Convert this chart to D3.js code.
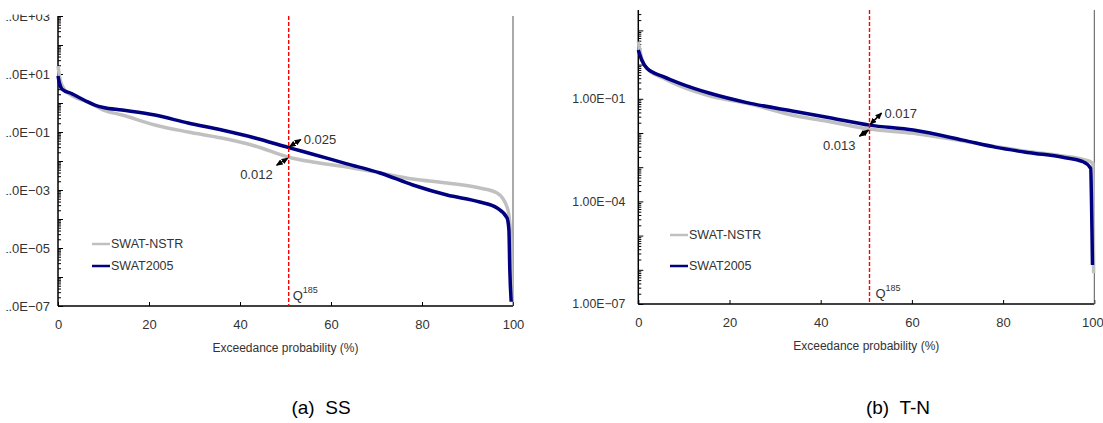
<!DOCTYPE html>
<html>
<head>
<meta charset="utf-8">
<script src="https://cdn.jsdelivr.net/npm/d3@7"></script>
<style>
  body { margin: 0; background: #fff; }
  svg { display: block; }
</style>
</head>
<body>
<div id="chart"></div>
<script>
// flow duration curves
var xTicks = [0, 20, 40, 60, 80, 100];
var seriesNames = ['SWAT-NSTR', 'SWAT2005'];
var q185 = 50.7;

// (a) SS
var ssProbNstr = [0, 0.5, 1.5, 3.5, 6.6, 10, 14.1, 21.3, 28.6, 36.0, 43.3, 50.7, 56.0, 63.5, 70.8, 78.0, 85.5, 92.7, 96.5, 98.7, 99.3, 99.6, 99.8];
var ssNstr = [18.9, 6, 2.8, 1.65, 1.08, 0.57, 0.385, 0.174, 0.1, 0.062, 0.033, 0.0135, 0.0092, 0.0062, 0.00385, 0.00239, 0.00174, 0.00117, 0.00079, 0.00026, 7.3e-5, 3.9e-6, 1.6e-7];
var ssProb2005 = [0, 0.3, 0.9, 3.0, 6.0, 8.1, 10, 14.1, 21.3, 28.6, 36.0, 43.3, 50.7, 56.0, 63.5, 70.8, 78.0, 85.5, 92.7, 96.5, 98.7, 99.1, 99.3, 99.6];
var ss2005 = [8.5, 5, 3.0, 2.1, 1.2, 0.85, 0.7, 0.57, 0.385, 0.204, 0.117, 0.062, 0.029, 0.0171, 0.0080, 0.00385, 0.00149, 0.00067, 0.000385, 0.000239, 0.000108, 4.2e-5, 1.7e-6, 1.4e-7];
var ssMarks = ['0.025', '0.012'];

// (b) T-N
var tnProbNstr = [0, 0.75, 1.9, 5.5, 9.1, 15.7, 23.8, 34.7, 42.0, 50.7, 60.3, 71.2, 78.5, 85.8, 93.1, 97.5, 99.7, 99.85];
var tnNstr = [4.7, 1.5, 0.78, 0.40, 0.237, 0.121, 0.0738, 0.0314, 0.0214, 0.013, 0.0098, 0.0058, 0.0040, 0.00284, 0.00214, 0.0017, 0.0013, 7.9e-7];
var tnProb2005 = [0, 0.75, 1.9, 5.5, 9.1, 15.7, 23.8, 34.7, 42.0, 50.7, 60.3, 71.2, 78.5, 85.8, 93.1, 97.5, 99.2, 99.37, 99.5, 99.6];
var tn2005 = [2.67, 1.36, 0.78, 0.445, 0.284, 0.145, 0.0775, 0.042, 0.028, 0.017, 0.0122, 0.0062, 0.0038, 0.00266, 0.00195, 0.00145, 0.00093, 1.38e-4, 1.17e-5, 1.38e-6];
var tnMarks = ['0.017', '0.013'];

var width = 1103, height = 423;
var font = '"Liberation Sans", Arial, sans-serif';
var textColor = '#333';
var colors = { nstr: '#c0c0c0', swat: '#000080' };

var svg = d3.select('#chart').append('svg')
  .attr('width', width)
  .attr('height', height)
  .attr('viewBox', [0, 0, width, height].join(' '));

svg.append('rect').attr('width', width).attr('height', height).attr('fill', '#fff');

var defs = svg.append('defs');
defs.append('marker')
  .attr('id', 'head')
  .attr('markerUnits', 'userSpaceOnUse')
  .attr('markerWidth', 7).attr('markerHeight', 6)
  .attr('refX', 6).attr('refY', 3)
  .attr('orient', 'auto-start-reverse')
  .append('path').attr('d', 'M0,0L7,3L0,6Z').attr('fill', '#000');

// 1.0E+01 style labels
function sci(v, digits) {
  var e = Math.round(Math.log10(v));
  var m = (v / Math.pow(10, e)).toFixed(digits);
  return m + 'E' + (e < 0 ? '\u2212' : '+') + String(Math.abs(e)).padStart(2, '0');
}

function drawPanel(p) {
  var x = d3.scaleLinear().domain([0, 100]).range([p.left, p.right]);
  var y = d3.scaleLog().domain(p.yDomain).range([p.bottom, p.top]);

  var lo = Math.round(Math.log10(p.yDomain[0]));
  var hi = Math.floor(Math.log10(p.yDomain[1]) + 1e-9);
  var decades = d3.range(lo, hi + 1).map(function(e) { return Math.pow(10, e); });
  var minors = [];
  decades.forEach(function(d) {
    for (var k = 2; k <= 9; k++) {
      if (k * d <= p.yDomain[1]) minors.push(k * d);
    }
  });

  // clip for the y labels (the original is cut at the edge)
  var clipId = 'clip' + p.id;
  defs.append('clipPath').attr('id', clipId)
    .append('rect').attr('x', p.clip[0]).attr('y', p.clip[1])
    .attr('width', width).attr('height', height);

  var yWrap = svg.append('g').attr('clip-path', 'url(#' + clipId + ')');

  var yMinor = yWrap.append('g')
    .attr('transform', 'translate(' + p.left + ',0)')
    .call(d3.axisLeft(y).tickValues(minors).tickSize(-3).tickFormat(''));
  yMinor.select('.domain').remove();

  var yAxis = yWrap.append('g')
    .attr('transform', 'translate(' + p.left + ',0)')
    .call(d3.axisLeft(y).tickValues(decades).tickSize(-5).tickPadding(p.labelGap)
      .tickFormat(function(d) {
        var e = Math.round(Math.log10(d));
        return ((e - lo) % p.labelEvery === 0) ? sci(d, p.digits) : '';
      }));
  yAxis.select('.domain').remove();
  yAxis.attr('font-size', p.labelSize).attr('font-family', font);
  yAxis.selectAll('text').attr('fill', textColor);
  yWrap.selectAll('.tick line').attr('stroke', '#000');

  var xAxis = svg.append('g')
    .attr('transform', 'translate(0,' + p.bottom + ')')
    .call(d3.axisBottom(x).tickValues(xTicks).tickSize(-4).tickPadding(14));
  xAxis.select('.domain').remove();
  xAxis.attr('font-size', 13).attr('font-family', font);
  xAxis.selectAll('text').attr('fill', textColor)
    .attr('dx', function(d) { return d === 100 ? p.lastNudge : 0; });

  // frame: left + bottom axis, thin right border
  svg.append('line')
    .attr('x1', p.left).attr('x2', p.left).attr('y1', p.top).attr('y2', p.bottom)
    .attr('stroke', '#000').attr('stroke-width', 1.5);
  svg.append('line')
    .attr('x1', p.left).attr('x2', p.right).attr('y1', p.bottom).attr('y2', p.bottom)
    .attr('stroke', '#000').attr('stroke-width', 1.5);
  svg.append('line')
    .attr('x1', p.right).attr('x2', p.right).attr('y1', p.top).attr('y2', p.bottom)
    .attr('stroke', '#555').attr('stroke-width', 1);

  var line = d3.line()
    .x(function(d) { return x(d[0]); })
    .y(function(d) { return y(d[1]); })
    .curve(d3.curveMonotoneX);

  svg.append('path')
    .datum(d3.zip(p.probNstr, p.nstr))
    .attr('d', line)
    .attr('fill', 'none').attr('stroke', colors.nstr).attr('stroke-width', 3.5)
    .attr('stroke-linejoin', 'round');
  svg.append('path')
    .datum(d3.zip(p.prob2005, p.swat))
    .attr('d', line)
    .attr('fill', 'none').attr('stroke', colors.swat).attr('stroke-width', 3.5)
    .attr('stroke-linejoin', 'round');

  // Q185 line
  svg.append('line')
    .attr('x1', x(q185)).attr('x2', x(q185)).attr('y1', p.top).attr('y2', p.bottom)
    .attr('stroke', '#ff0000').attr('stroke-width', 1.4).attr('stroke-dasharray', '4,2');
  var q = svg.append('text')
    .attr('x', x(q185) + p.qGap).attr('y', p.bottom - 6)
    .attr('font-family', font).attr('font-size', 13).attr('fill', textColor)
    .text('Q');
  q.append('tspan').attr('dy', -7).attr('font-size', 9).text('185');

  // value arrows at Q185
  var iSwat = p.prob2005.indexOf(q185), iNstr = p.probNstr.indexOf(q185);
  var topPt = [x(q185), y(p.swat[iSwat])];
  var botPt = [x(q185), y(p.nstr[iNstr])];
  svg.append('line')
    .attr('x1', topPt[0] + 1).attr('y1', topPt[1] - 1)
    .attr('x2', topPt[0] + p.upArrow[0]).attr('y2', topPt[1] + p.upArrow[1])
    .attr('stroke', '#000').attr('stroke-width', 1.5)
    .attr('marker-start', 'url(#head)').attr('marker-end', 'url(#head)');
  svg.append('line')
    .attr('x1', botPt[0] - 1).attr('y1', botPt[1] + 1)
    .attr('x2', botPt[0] + p.downArrow[0]).attr('y2', botPt[1] + p.downArrow[1])
    .attr('stroke', '#000').attr('stroke-width', 1.5)
    .attr('marker-start', 'url(#head)').attr('marker-end', 'url(#head)');
  svg.append('text')
    .attr('x', topPt[0] + p.upArrow[0] + 3).attr('y', topPt[1] + p.upArrow[1])
    .attr('dy', '0.35em')
    .attr('font-family', font).attr('font-size', 13).attr('fill', textColor)
    .text(p.marks[0]);
  svg.append('text')
    .attr('x', botPt[0] + p.downArrow[0] - 4).attr('y', botPt[1] + p.downArrow[1] + 9)
    .attr('dy', '0.35em').attr('text-anchor', 'end')
    .attr('font-family', font).attr('font-size', 13).attr('fill', textColor)
    .text(p.marks[1]);

  // legend
  var legend = svg.append('g').attr('transform', 'translate(' + p.legend[0] + ',' + p.legend[1] + ')');
  [colors.nstr, colors.swat].forEach(function(c, i) {
    var g = legend.append('g').attr('transform', 'translate(0,' + i * p.legendStep + ')');
    g.append('line').attr('x1', 0).attr('x2', 18).attr('stroke', c).attr('stroke-width', 2.5);
    g.append('text').attr('x', 19).attr('dy', '0.35em')
      .attr('font-family', font).attr('font-size', 12.5).attr('fill', textColor)
      .text(seriesNames[i]);
  });

  // axis title and caption
  svg.append('text')
    .attr('x', (p.left + p.right) / 2).attr('y', p.bottom + 42).attr('dy', '0.35em')
    .attr('text-anchor', 'middle')
    .attr('font-family', font).attr('font-size', 12).attr('fill', textColor)
    .text('Exceedance probability (%)');
  svg.append('text')
    .attr('x', p.caption).attr('y', 414)
    .attr('text-anchor', 'middle')
    .attr('font-family', font).attr('font-size', 19).attr('fill', '#000')
    .attr('xml:space', 'preserve')
    .text(p.title);
}

drawPanel({
  id: 'a', left: 58, right: 513, top: 16, bottom: 306,
  yDomain: [1e-7, 1e3], labelEvery: 2, digits: 1, labelGap: 8, labelSize: 13,
  clip: [6.5, 14.5], qGap: 4, lastNudge: 0,
  probNstr: ssProbNstr, nstr: ssNstr, prob2005: ssProb2005, swat: ss2005,
  marks: ssMarks, upArrow: [12, -8], downArrow: [-12, 8],
  legend: [92, 244], legendStep: 22,
  caption: 321, title: '(a)  SS'
});

drawPanel({
  id: 'b', left: 638.3, right: 1094.3, top: 10, bottom: 304,
  yDomain: [1e-7, Math.pow(10, 294 / 34.2 - 7)], labelEvery: 3, digits: 2, labelGap: 13, labelSize: 12.3,
  clip: [0, 0], qGap: 6, lastNudge: -2,
  probNstr: tnProbNstr, nstr: tnNstr, prob2005: tnProb2005, swat: tn2005,
  marks: tnMarks, upArrow: [12, -12], downArrow: [-10, 7],
  legend: [670, 235], legendStep: 31,
  caption: 898, title: '(b)  T-N'
});
</script>
</body>
</html>
